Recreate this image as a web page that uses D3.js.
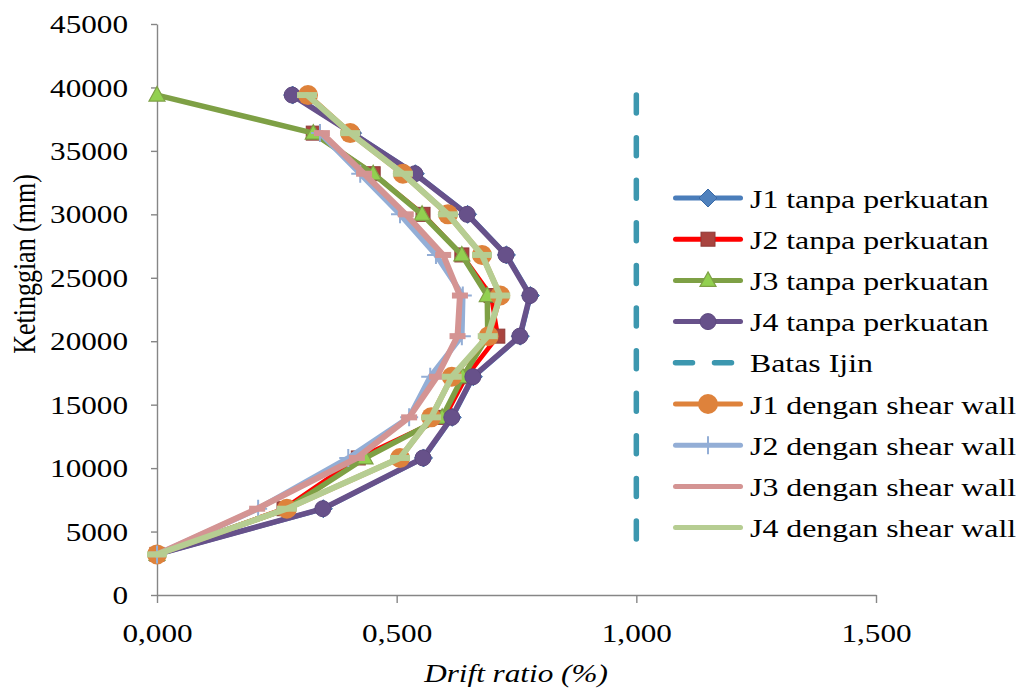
<!DOCTYPE html>
<html><head><meta charset="utf-8">
<script src="https://cdn.jsdelivr.net/npm/d3@7"></script>
<style>
html,body{margin:0;padding:0;background:#fff;}
svg{display:block;font-family:"Liberation Serif","Times New Roman",serif;}
</style></head><body>
<svg id="chart" width="1024" height="691"></svg>
<script>
// ---- data ----
const heights   = [3200, 6800, 10800, 14000, 17200, 20400, 23600, 26800, 30000, 33200, 36400, 39400];
const j1Tanpa   = [0, 0.347, 0.556, 0.616, 0.660, 0.758, 0.779, 0.729, 0.648, 0.539, 0.408, 0.283];
const j2Tanpa   = [0, 0.265, 0.420, 0.600, 0.645, 0.711, 0.697, 0.636, 0.555, 0.451, 0.326, null];
const j3Tanpa   = [0, 0.271, 0.434, 0.595, 0.638, 0.690, 0.689, 0.636, 0.553, 0.451, 0.326, 0.000];
const j4Tanpa   = [0, 0.346, 0.555, 0.615, 0.659, 0.757, 0.778, 0.728, 0.647, 0.538, 0.407, 0.282];
const batasIjin = [1, 1, 1, 1, 1, 1, 1, 1, 1, 1, 1, 1];
const j1Shear   = [0, 0.271, 0.507, 0.572, 0.615, 0.692, 0.716, 0.678, 0.607, 0.513, 0.403, 0.315];
const j2Shear   = [0, 0.211, 0.399, 0.526, 0.570, 0.636, 0.638, 0.582, 0.507, 0.424, 0.340, null];
const j3Shear   = [0, 0.209, 0.417, 0.526, 0.584, 0.627, 0.632, 0.597, 0.519, 0.432, 0.344, null];
const j4Shear   = [0, 0.271, 0.507, 0.572, 0.615, 0.690, 0.716, 0.678, 0.607, 0.513, 0.403, 0.313];

const seriesNames = ["J1 tanpa perkuatan", "J2 tanpa perkuatan", "J3 tanpa perkuatan", "J4 tanpa perkuatan",
  "Batas Ijin", "J1 dengan shear wall", "J2 dengan shear wall", "J3 dengan shear wall", "J4 dengan shear wall"];
const seriesValues = [j1Tanpa, j2Tanpa, j3Tanpa, j4Tanpa, batasIjin, j1Shear, j2Shear, j3Shear, j4Shear];
const xTickValues = [0, 0.5, 1.0, 1.5];
const yTickValues = [0, 5000, 10000, 15000, 20000, 25000, 30000, 35000, 40000, 45000];
const xTitle = "Drift ratio (%)";
const yTitle = "Ketinggian (mm)";

// ---- styles ----
const styles = [
  {line:"#4A7DBA", w:5, marker:"diamond", fill:"#4F81BD", stroke:"#3A6AA6"},
  {line:"#FF0000", w:4.5, marker:"square", fill:"#A9443F", stroke:"#8E3A37"},
  {line:"#7EA045", w:5.5, marker:"triangle", fill:"#92D050", stroke:"#7EA045"},
  {line:"#67518A", w:5.5, marker:"circle8", fill:"#67518A", stroke:"#5E4A80"},
  {line:"#3C97AF", w:5.5, marker:null, dash:true},
  {line:"#DE823B", w:5.5, marker:"circle10", fill:"#DE823B", stroke:"#DE823B"},
  {line:"#93AED6", w:5.5, marker:"plus", fill:"none", stroke:"#93AED6"},
  {line:"#D49493", w:6, marker:"dash16", fill:"#D49493", stroke:"none"},
  {line:"#B6CD92", w:6, marker:"dash20", fill:"#B6CD92", stroke:"none"}
];

const svg = d3.select("#chart");
const SX = 1.2;   // horizontal text stretch
const SXL = 1.225; // legend text stretch
const x = d3.scaleLinear().domain([0, 1.5]).range([157, 876]);
const y = d3.scaleLinear().domain([0, 45000]).range([595, 24]);
const fmtX = v => d3.format(".3f")(v).replace(".", ",");

// axes
const gy = svg.append("g").attr("transform", `translate(${x(0)},0)`)
  .call(d3.axisLeft(y).tickValues(yTickValues).tickSize(6).tickSizeOuter(0).tickFormat(d => String(d)));
const gx = svg.append("g").attr("transform", `translate(0,${y(0)})`)
  .call(d3.axisBottom(x).tickValues(xTickValues).tickSize(8).tickSizeOuter(0).tickFormat(fmtX));
[gy, gx].forEach(g => {
  g.select(".domain").attr("stroke", "#868686").attr("stroke-width", 1.4);
  g.selectAll(".tick line").attr("stroke", "#868686").attr("stroke-width", 1.4);
  g.selectAll("text").attr("fill", "#000").style("font-size", "26px")
    .style("font-family", '"Liberation Serif","Times New Roman",serif');
});
gy.selectAll("text").attr("x", -29 / SX).attr("dy", "0.33em").attr("transform", `scale(${SX},1)`);
gx.selectAll("text").attr("y", 0).attr("dy", 0).attr("transform", `translate(0,47) scale(${SX},1)`);

// titles
svg.append("text").attr("transform", `translate(516,682) scale(${SX},1)`)
  .attr("text-anchor", "middle").style("font-size", "26px").style("font-style", "italic").text(xTitle);
svg.append("text").attr("transform", `translate(35,264) rotate(-90) scale(1,${SX})`)
  .attr("text-anchor", "middle").style("font-size", "26px").text(yTitle);

// marker drawing
function drawMarker(g, type, st) {
  if (!type) return;
  if (type === "diamond") g.append("path").attr("d", "M0,-9L9,0L0,9L-9,0Z").attr("fill", st.fill).attr("stroke", st.stroke).attr("stroke-width", 1);
  else if (type === "square") g.append("rect").attr("x", -7).attr("y", -7).attr("width", 14).attr("height", 14).attr("fill", st.fill).attr("stroke", st.stroke).attr("stroke-width", 1);
  else if (type === "triangle") g.append("path").attr("d", "M0,-8.5L8,6L-8,6Z").attr("fill", st.fill).attr("stroke", st.stroke).attr("stroke-width", 1.2);
  else if (type === "circle8") g.append("circle").attr("r", 8).attr("fill", st.fill).attr("stroke", st.stroke).attr("stroke-width", 1);
  else if (type === "circle10") g.append("circle").attr("r", 10).attr("fill", st.fill);
  else if (type === "plus") g.append("path").attr("d", "M-9,0H9M0,-9V9").attr("stroke", st.stroke).attr("stroke-width", 2);
  else if (type === "dash16") g.append("rect").attr("x", -8).attr("y", -3).attr("width", 16).attr("height", 6).attr("fill", st.fill);
  else if (type === "dash20") g.append("rect").attr("x", -10).attr("y", -3).attr("width", 20).attr("height", 6).attr("fill", st.fill);
}

// series
const line = d3.line().defined(d => d.v != null).x(d => x(d.v)).y(d => y(d.h));
seriesValues.forEach((vals, i) => {
  const st = styles[i];
  const pts = vals.map((v, k) => ({v: v, h: heights[k]}));
  const g = svg.append("g");
  const p = g.append("path").datum(pts).attr("d", line).attr("fill", "none")
    .attr("stroke", st.line).attr("stroke-width", st.w).attr("stroke-linejoin", "round");
  if (st.dash) {
    const rev = pts.slice().reverse();
    p.datum(rev).attr("d", line).attr("stroke-dasharray", "18,24.6").attr("stroke-linecap", "round");
  } else {
    p.attr("stroke-linecap", "round");
  }
  pts.filter(d => d.v != null).forEach(d => {
    const mg = g.append("g").attr("transform", `translate(${x(d.v)},${y(d.h)})`);
    drawMarker(mg, st.marker, st);
  });
});

// legend
const legX1 = 673, legX2 = 743, legY0 = 198, legDy = 41.2;
seriesNames.forEach((name, i) => {
  const st = styles[i];
  const ly = legY0 + i * legDy;
  const g = svg.append("g");
  if (st.dash) {
    g.append("line").attr("x1", legX1 + 2.5).attr("x2", legX2).attr("y1", ly).attr("y2", ly)
      .attr("stroke", st.line).attr("stroke-width", st.w).attr("stroke-linecap", "round").attr("stroke-dasharray", "17,22");
  } else {
    g.append("line").attr("x1", legX1 + 2.5).attr("x2", legX2 - 2.5).attr("y1", ly).attr("y2", ly)
      .attr("stroke", st.line).attr("stroke-width", 5).attr("stroke-linecap", "round");
    if (st.marker && st.marker.indexOf("dash") !== 0) {
      const mg = g.append("g").attr("transform", `translate(${(legX1 + legX2) / 2},${ly})`);
      drawMarker(mg, st.marker, st);
    }
  }
  g.append("text").attr("transform", `translate(750,${ly + 9.5}) scale(${SXL},1)`)
    .style("font-size", "26px").attr("fill", "#000").text(name);
});
</script>
</body></html>
